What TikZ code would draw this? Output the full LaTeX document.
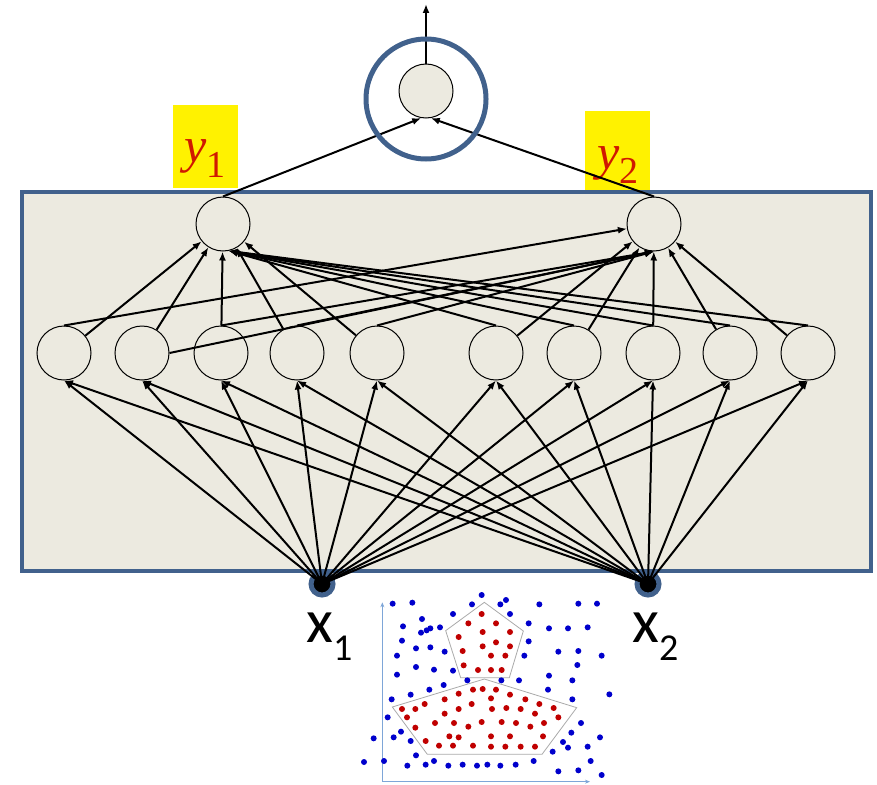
\documentclass[tikz,border=0pt]{standalone}
\usepackage{fontspec}
\setmainfont{Liberation Serif}
\newfontfamily\carl{Carlito}
\newfontfamily\tms{Liberation Serif}
\usetikzlibrary{arrows.meta}
\definecolor{frameblue}{HTML}{41618C}
\definecolor{panel}{HTML}{ECEAE0}
\definecolor{ylab}{HTML}{D01800}
\definecolor{dotblue}{HTML}{0000CC}
\definecolor{dotred}{HTML}{C00000}
\definecolor{axisblue}{HTML}{7EA6D8}
\definecolor{outlinegray}{HTML}{AAAAAA}
\begin{document}
\begin{tikzpicture}[x=1pt,y=-1pt,
  neuron/.style={circle,draw=black,line width=1pt,fill=panel,minimum size=54pt,inner sep=0pt},
  inp/.style={circle,draw=frameblue,line width=5pt,fill=black,minimum size=22pt,inner sep=0pt},
  ringnode/.style={circle,draw=frameblue,line width=5pt,minimum size=120pt,inner sep=0pt},
  edge/.style={line width=2pt,-{Latex[length=9pt,width=7pt]}},
  ylabel/.style={anchor=base west,inner sep=0pt,text=ylab,font=\tms\fontsize{50}{50}\selectfont\itshape},
  xlabel/.style={anchor=base west,inner sep=0pt,font=\carl\fontsize{62}{62}\selectfont},
  hlbox/.style={fill=yellow},
  bdot/.style={fill=dotblue},
  rdot/.style={fill=dotred},
  pent/.style={draw=outlinegray,line width=0.8pt},
  axis/.style={draw=axisblue,line width=1pt,-{Stealth[length=5pt,width=4pt]}}]
\useasboundingbox (0,0) rectangle (877,784);
% yellow label boxes
\fill[hlbox] (173,105) rectangle (238,188);
\fill[hlbox] (585,111) rectangle (650,193);
\node[ylabel] (ly1) at (184,162) {y\raisebox{-15pt}{\fontsize{38}{38}\selectfont\upshape 1}};
\node[ylabel] (ly2) at (597,169) {y\raisebox{-14pt}{\fontsize{38}{38}\selectfont\upshape 2}};
% panel
\draw[draw=frameblue,fill=panel,line width=4.5pt] (22,192) rectangle (871,571);
% nodes
\node[neuron] (out) at (426,91) {};
\node[neuron] (y1) at (223,224) {};
\node[neuron] (y2) at (654,224) {};
\foreach \i/\xx in {1/64,2/142,3/221,4/297,5/377,6/496,7/574,8/653,9/730,10/808}
  \node[neuron] (h\i) at (\xx,353) {};
\node[inp] (x1) at (322,584) {};
\node[inp] (x2) at (648,584) {};
\coordinate (top) at (426,4);
% input edges
\foreach \i in {1,...,10} {
  \draw[edge] (x1.center) -- (h\i.south);
  \draw[edge] (x2.center) -- (h\i.south);
}
% hidden to second layer, same side
\foreach \i in {1,...,5} \draw[edge] (h\i) -- (y1);
\foreach \i in {6,...,10} \draw[edge] (h\i) -- (y2);
% cross edges
\draw[edge] (h1.north) -- (y2);
\draw[edge] (h2.east) -- (y2.-90);
\foreach \i in {3,4,5} \draw[edge] (h\i.north) -- (y2.-90);
\foreach \i in {6,...,10} \draw[edge] (h\i.north) -- (y1.-78);
% to output
\draw[edge] (y1.north) -- (out.-100);
\draw[edge] (y2.north) -- (out.-80);
\draw[edge] (out.north) -- (top);
\node[ringnode] (ring) at (426,99) {};
% input labels
\node[xlabel] (lx1) at (306,642) {x\raisebox{-18pt}{\fontsize{38}{38}\selectfont 1}};
\node[xlabel] (lx2) at (632,642) {x\raisebox{-18pt}{\fontsize{38}{38}\selectfont 2}};
% scatter plot
\begin{scope}[shift={(280,560)},x=0.33333pt,y=-0.33333pt]
  \draw[axis] (307,665) -- (307,127);
  \draw[axis] (307,665) -- (930,665);
  \draw[pent] (613,127) -- (730,213) -- (688,353) -- (542,353) -- (497,212) -- cycle;
  \draw[pent] (613,357) -- (890,443) -- (786,583) -- (442,583) -- (337,441) -- cycle;
  \foreach \a/\b in {338/131, 397/128, 605/105, 678/120, 576/133, 661/133, 778/133, 895/131, 951/131,
    519/162, 690/162, 426/177, 369/199, 451/205, 440/211, 423/218, 480/202, 746/190, 807/205, 864/205, 923/202,
    366/242, 746/244, 408/265, 451/262, 494/275, 835/275, 895/273, 965/287, 351/287, 733/287,
    408/321, 462/329, 519/332, 892/315, 351/344, 562/361, 664/361, 717/361, 807/347, 877/361,
    448/389, 491/375, 392/404, 804/389, 988/403, 335/418, 877/418,
    323/472, 903/489, 363/515, 341/532, 874/518, 281/535, 392/543, 960/532, 849/546, 864/563, 923/560, 818/575,
    408/586, 252/606, 312/603, 462/603, 437/614, 382/617, 505/617, 548/614, 591/617, 622/614, 661/617, 707/614,
    761/603, 932/603, 835/634, 895/631, 965/645}
    \fill[bdot] (\a,\b) circle (3pt);
  \foreach \a/\b in {605/162, 565/190, 648/190, 608/216, 690/216, 536/231, 648/247, 608/259, 690/259, 548/273,
    633/287, 676/287, 551/316, 594/330, 633/330, 665/330,
    608/387, 579/389, 648/389, 536/401, 494/418, 633/415, 690/404, 736/418, 575/432, 434/432, 366/447, 406/447,
    536/447, 636/447, 679/444, 722/447, 778/432, 821/444, 494/461, 765/461, 381/472, 835/472, 465/489, 522/489,
    605/486, 665/486, 708/489, 751/500, 792/489, 406/503, 565/500, 508/529, 536/532, 633/529, 690/529, 789/529,
    437/543, 477/557, 519/557, 579/557, 633/560, 676/560, 722/560, 765/560}
    \fill[rdot] (\a,\b) circle (3pt);
\end{scope}
\end{tikzpicture}
\end{document}
